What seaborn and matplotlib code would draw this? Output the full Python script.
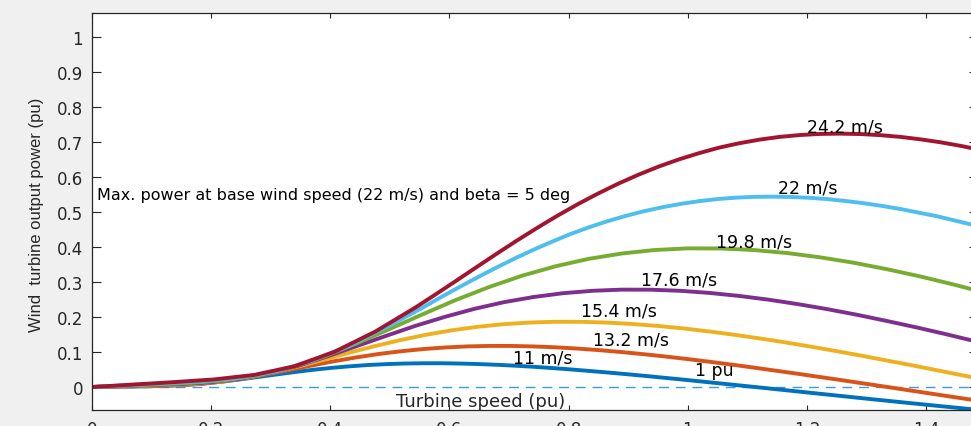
import pandas as pd
import matplotlib
matplotlib.use('Agg')
import matplotlib.pyplot as plt
import seaborn as sns

# ── DATA ─────────────────────────────────────────────────
wind_labels = ['11 m/s', '13.2 m/s', '15.4 m/s', '17.6 m/s', '19.8 m/s', '22 m/s', '24.2 m/s']
line_colors = ['#0072BD', '#D95319', '#EDB120', '#7E2F8E', '#77AC30', '#4DBEEE', '#A2142F']

speed_11 = [0, 0.031, 0.062, 0.093, 0.123, 0.154, 0.185, 0.216, 0.247, 0.278, 0.309, 0.340, 0.370,
            0.401, 0.432, 0.463, 0.494, 0.525, 0.556, 0.586, 0.617, 0.648, 0.679, 0.710, 0.741,
            0.772, 0.802, 0.833, 0.864, 0.895, 0.926, 0.988, 1.049, 1.111, 1.173, 1.235, 1.296,
            1.358, 1.420, 1.481]
power_11 = [0, 0.0006, 0.0013, 0.0020, 0.0032, 0.0056, 0.0094, 0.0148, 0.0214, 0.0285, 0.0357,
            0.0427, 0.0490, 0.0545, 0.0591, 0.0628, 0.0654, 0.0671, 0.0679, 0.0679, 0.0671, 0.0656,
            0.0635, 0.0609, 0.0578, 0.0542, 0.0504, 0.0461, 0.0417, 0.0370, 0.0321, 0.0218, 0.0112,
            0.0003, -0.0107, -0.0217, -0.0326, -0.0434, -0.0540, -0.0643]

speed_13 = [0, 0.037, 0.074, 0.111, 0.148, 0.185, 0.222, 0.259, 0.296, 0.333, 0.370, 0.407, 0.444,
            0.481, 0.519, 0.556, 0.593, 0.630, 0.667, 0.704, 0.741, 0.778, 0.815, 0.852, 0.889,
            0.926, 0.963, 1.000, 1.037, 1.074, 1.111, 1.185, 1.259, 1.333, 1.407, 1.481]
power_13 = [0, 0.0011, 0.0022, 0.0035, 0.0056, 0.0096, 0.0163, 0.0256, 0.0369, 0.0492, 0.0618,
            0.0738, 0.0847, 0.0943, 0.1022, 0.1085, 0.1130, 0.1160, 0.1174, 0.1173, 0.1159, 0.1134,
            0.1098, 0.1052, 0.0998, 0.0937, 0.0870, 0.0797, 0.0720, 0.0639, 0.0554, 0.0377, 0.0193,
            0.0005, -0.0186, -0.0376]

speed_15 = [0, 0.043, 0.086, 0.130, 0.173, 0.216, 0.259, 0.302, 0.346, 0.389, 0.432, 0.475, 0.519,
            0.562, 0.605, 0.648, 0.691, 0.735, 0.778, 0.821, 0.864, 0.907, 0.951, 0.994, 1.037,
            1.080, 1.123, 1.167, 1.210, 1.253, 1.296, 1.383, 1.469, 1.556]
power_15 = [0, 0.0018, 0.0035, 0.0055, 0.0089, 0.0153, 0.0259, 0.0407, 0.0586, 0.0781, 0.0981,
            0.1171, 0.1345, 0.1497, 0.1623, 0.1722, 0.1795, 0.1842, 0.1864, 0.1862, 0.1841, 0.1800,
            0.1743, 0.1671, 0.1585, 0.1488, 0.1382, 0.1266, 0.1143, 0.1014, 0.0880, 0.0598, 0.0306,
            0.0007]

speed_17 = [0, 0.049, 0.099, 0.148, 0.198, 0.247, 0.296, 0.346, 0.395, 0.444, 0.494, 0.543, 0.593,
            0.642, 0.691, 0.741, 0.790, 0.840, 0.889, 0.938, 0.988, 1.037, 1.086, 1.136, 1.185,
            1.235, 1.284, 1.333, 1.383, 1.432, 1.481]
power_17 = [0, 0.0026, 0.0053, 0.0083, 0.0132, 0.0228, 0.0387, 0.0607, 0.0875, 0.1167, 0.1464,
            0.1748, 0.2008, 0.2234, 0.2423, 0.2571, 0.2679, 0.2749, 0.2782, 0.2780, 0.2748, 0.2687,
            0.2602, 0.2494, 0.2367, 0.2222, 0.2063, 0.1890, 0.1706, 0.1514, 0.1313]

speed_19 = [0, 0.056, 0.111, 0.167, 0.222, 0.278, 0.333, 0.389, 0.444, 0.500, 0.556, 0.611, 0.667,
            0.722, 0.778, 0.833, 0.889, 0.944, 1.000, 1.056, 1.111, 1.167, 1.222, 1.278, 1.333,
            1.389, 1.444, 1.500]
power_19 = [0, 0.0038, 0.0075, 0.0118, 0.0188, 0.0325, 0.0551, 0.0865, 0.1245, 0.1661, 0.2085,
            0.2489, 0.2860, 0.3181, 0.3449, 0.3660, 0.3814, 0.3914, 0.3961, 0.3958, 0.3913, 0.3827,
            0.3705, 0.3552, 0.3370, 0.3163, 0.2937, 0.2691]

speed_22 = [0, 0.062, 0.123, 0.185, 0.247, 0.309, 0.370, 0.432, 0.494, 0.525, 0.556, 0.586, 0.617,
            0.648, 0.679, 0.710, 0.741, 0.772, 0.802, 0.833, 0.864, 0.895, 0.926, 0.957, 0.988,
            1.019, 1.049, 1.080, 1.111, 1.142, 1.173, 1.204, 1.235, 1.265, 1.296, 1.327, 1.358,
            1.420, 1.481]
power_22 = [0, 0.0052, 0.0103, 0.0161, 0.0259, 0.0446, 0.0756, 0.1186, 0.1708, 0.1991, 0.2278,
            0.2570, 0.2859, 0.3142, 0.3415, 0.3676, 0.3923, 0.4151, 0.4364, 0.4557, 0.4732, 0.4885,
            0.5021, 0.5136, 0.5232, 0.5310, 0.5369, 0.5409, 0.5433, 0.5439, 0.5430, 0.5406, 0.5368,
            0.5314, 0.5249, 0.5171, 0.5082, 0.4872, 0.4622]

speed_24 = [0, 0.068, 0.136, 0.204, 0.272, 0.340, 0.407, 0.475, 0.543, 0.577, 0.611, 0.645, 0.679,
            0.713, 0.747, 0.781, 0.815, 0.849, 0.883, 0.917, 0.951, 0.985, 1.019, 1.052, 1.086,
            1.120, 1.154, 1.188, 1.222, 1.256, 1.290, 1.324, 1.358, 1.392, 1.426, 1.460, 1.494]
power_24 = [0, 0.0069, 0.0138, 0.0215, 0.0344, 0.0593, 0.1006, 0.1579, 0.2273, 0.2650, 0.3033,
            0.3421, 0.3806, 0.4183, 0.4545, 0.4893, 0.5221, 0.5525, 0.5808, 0.6065, 0.6298, 0.6503,
            0.6683, 0.6837, 0.6964, 0.7067, 0.7146, 0.7199, 0.7231, 0.7239, 0.7227, 0.7195, 0.7144,
            0.7073, 0.6987, 0.6883, 0.6764]

# label positions (data coords) for curve annotations
label_x = [0.757, 0.904, 0.884, 0.985, 1.111, 1.201, 1.263]
label_y = [0.085, 0.137, 0.220, 0.306, 0.417, 0.571, 0.743]

x_ticks = [0, 0.2, 0.4, 0.6, 0.8, 1.0, 1.2, 1.4]
x_tick_labels = ['0', '0.2', '0.4', '0.6', '0.8', '1', '1.2', '1.4']
y_ticks = [0, 0.1, 0.2, 0.3, 0.4, 0.5, 0.6, 0.7, 0.8, 0.9, 1.0]
y_tick_labels = ['0', '0.1', '0.2', '0.3', '0.4', '0.5', '0.6', '0.7', '0.8', '0.9', '1']

# ── BUILD LONG TABLE ──────────────────────────────────────
speeds = [speed_11, speed_13, speed_15, speed_17, speed_19, speed_22, speed_24]
powers = [power_11, power_13, power_15, power_17, power_19, power_22, power_24]
frames = []
for lab, sp, pw in zip(wind_labels, speeds, powers):
    frames.append(pd.DataFrame({'speed': sp, 'power': pw, 'wind': lab}))
df = pd.concat(frames, ignore_index=True)

# ── PLOT ──────────────────────────────────────────────────
sns.set_theme(style='white')
plt.rcParams['font.family'] = ['DejaVu Sans']

fig = plt.figure(figsize=(9.71, 4.27), dpi=100, facecolor='#f0f0f0')
ax = fig.add_axes([92 / 971, 16 / 427, 886 / 971, 397 / 427])
ax.set_facecolor('white')

ax.axhline(0, color='#3D9AE0', lw=1.0, ls=(0, (7, 5)), zorder=1)

sns.lineplot(data=df, x='speed', y='power', hue='wind', hue_order=wind_labels,
             palette=line_colors, estimator=None, sort=False, linewidth=2.8,
             legend=False, ax=ax)

for lab, lx, ly in zip(wind_labels, label_x, label_y):
    ax.text(lx, ly, lab, ha='center', va='center', fontsize=12.5, color='black')
ax.text(1.044, 0.049, '1 pu', ha='center', va='center', fontsize=12.5, color='black')
ax.text(0.008, 0.551, 'Max. power at base wind speed (22 m/s) and beta = 5 deg',
        ha='left', va='center', fontsize=11.5, color='black')
ax.text(0.653, -0.040, 'Turbine speed (pu)', ha='center', va='center',
        fontsize=13, color='#262626')

ax.set_xlim(0, 1.487)
ax.set_ylim(-0.0657, 1.0686)
ax.set_xticks(x_ticks)
ax.set_xticklabels(x_tick_labels)
ax.set_yticks(y_ticks)
ax.set_yticklabels(y_tick_labels)
ax.set_xlabel('')
ax.set_ylabel('')

ax.tick_params(axis='y', which='both', direction='in', length=6.5, width=0.8,
               pad=6.5, labelsize=12, labelcolor='#262626', left=True, right=True,
               color='#262626')
ax.tick_params(axis='x', which='both', direction='in', length=3.6, width=0.8,
               pad=7, labelsize=12, labelcolor='#262626', bottom=True, top=True,
               color='#262626')
for s in ax.spines.values():
    s.set_visible(True)
    s.set_color('#262626')
    s.set_linewidth(0.9)

fig.text(37 / 971, (427 - 215) / 427, 'Wind  turbine output power (pu)', rotation=90,
         ha='center', va='center', fontsize=12, color='#262626',
         family=['Liberation Sans Narrow', 'Liberation Sans'])

fig.savefig('out.png', dpi=100, facecolor=fig.get_facecolor())
